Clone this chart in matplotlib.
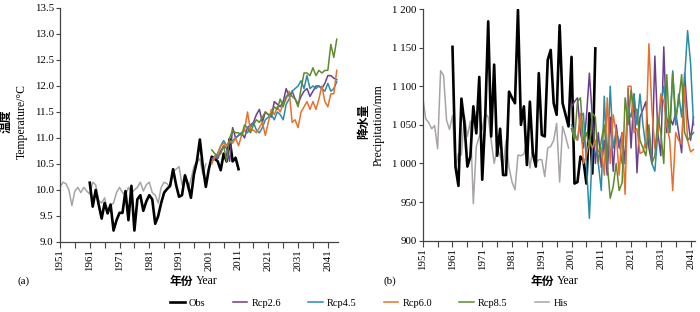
import numpy as np
import matplotlib
matplotlib.use("Agg")
import matplotlib.pyplot as plt
from matplotlib.ticker import MultipleLocator, FuncFormatter

plt.rcParams['font.family'] = ['Liberation Serif', 'Noto Sans CJK SC']

# ---- temperature (a) ----
his_years = np.arange(1951, 2001)
his_temp = [10.05, 10.15, 10.12, 10.0, 9.7, 9.98, 10.05, 9.95, 10.05, 9.98,
            9.92, 10.15, 10.1, 9.8, 9.75, 9.85, 9.6, 9.7, 9.75, 9.95,
            10.05, 9.95, 9.9, 10.05, 9.95, 10.0, 10.05, 10.15, 9.98, 10.1,
            10.15, 9.95, 9.9, 9.75, 10.05, 10.15, 10.12, 10.05, 10.35, 10.4,
            10.45, 10.1, 10.3, 10.0, 10.2, 10.45, 10.55, 10.6, 10.3, 10.5]

obs_t_years = np.arange(1961, 2012)
obs_temp = [10.14, 9.68, 10.0, 9.72, 9.45, 9.75, 9.55, 9.72, 9.22, 9.42,
            9.56, 9.56, 9.98, 9.42, 10.08, 9.22, 9.82, 9.9, 9.6, 9.78,
            9.9, 9.82, 9.35, 9.5, 9.75, 9.95, 10.02, 10.08, 10.4, 10.1,
            9.87, 9.9, 10.28, 10.1, 9.85, 10.3, 10.55, 10.97, 10.45, 10.06,
            10.4, 10.64, 10.6, 10.55, 10.38, 10.7, 10.55, 10.98, 10.55, 10.62,
            10.4]

rcp_t_years = np.arange(2002, 2045)
rcp26_temp = [10.6, 10.65, 10.6, 10.75, 10.85, 10.8, 10.55, 11.2, 11.0, 11.05,
              11.1, 11.0, 11.2, 11.25, 11.3, 11.45, 11.55, 11.3, 11.5, 11.45,
              11.4, 11.7, 11.65, 11.6, 11.7, 11.95, 11.8, 11.9, 11.75, 11.65,
              11.8, 11.9, 11.95, 11.8, 11.9, 12.0, 12.0, 11.95, 12.05, 12.2,
              12.2, 12.15, 12.12]
rcp45_temp = [10.55, 10.6, 10.7, 10.85, 10.95, 10.85, 10.9, 10.95, 11.0, 11.05,
              11.1, 11.15, 11.1, 11.2, 11.3, 11.15, 11.1, 11.2, 11.35, 11.4,
              11.45, 11.35, 11.5, 11.45, 11.35, 11.65, 11.75, 11.9, 11.95, 12.0,
              12.1, 11.95, 12.2, 11.95, 12.0, 11.95, 12.0, 11.95, 11.9, 12.05,
              11.9, 11.95, 12.08]
rcp60_temp = [10.5, 10.65, 10.7, 10.85, 10.9, 10.85, 10.95, 10.9, 11.0, 10.85,
              11.05, 11.15, 11.5, 11.15, 11.15, 11.1, 11.2, 11.3, 11.05, 11.3,
              11.55, 11.45, 11.6, 11.5, 11.65, 11.75, 11.9, 11.3, 11.35, 11.2,
              11.5, 11.6, 11.7, 11.55, 11.7, 11.55, 11.75, 12.0, 11.7, 11.6,
              11.85, 11.85, 12.3]
rcp85_temp = [10.77, 10.7, 10.65, 10.7, 10.85, 10.55, 11.0, 11.15, 11.1, 11.1,
              11.05, 11.25, 11.2, 11.1, 11.25, 11.35, 11.3, 11.4, 11.5, 11.45,
              11.45, 11.6, 11.55, 11.75, 11.6, 11.8, 11.85, 11.8, 11.75, 11.6,
              11.95, 12.25, 12.25, 12.2, 12.35, 12.2, 12.3, 12.25, 12.3, 12.3,
              12.8, 12.55, 12.9]

# ---- precipitation (b) ----
his_prec = [1086, 1058, 1053, 1045, 1049, 1019, 1120, 1114, 1056, 1044,
            1062, 995, 1013, 1011, 1062, 1035, 1055, 948, 1022, 1035,
            1045, 1065, 1060, 1030, 1000, 1020, 1010, 995, 1030, 995,
            976, 966, 1011, 1010, 1012, 1030, 994, 1020, 1000, 1005,
            1005, 983, 1020, 1022, 1030, 1052, 976, 1048, 1035, 1020]

obs_p_years = np.arange(1961, 2010)
obs_prec = [1151, 996, 971, 1084, 1052, 996, 1009, 1074, 1039, 1112,
            979, 1060, 1184, 1035, 1128, 1010, 1045, 985, 985, 1093,
            1085, 1078, 1199, 1050, 1074, 998, 1080, 1013, 996, 1117,
            1037, 1035, 1134, 1147, 1078, 1063, 1179, 1078, 1063, 1048,
            1138, 974, 976, 1009, 1004, 974, 1065, 987, 1149]

rcp_p_years = np.arange(2001, 2043)
rcp26_prec = [1073, 1080, 1085, 1040, 1020, 1060, 1117, 1060, 1000, 1040,
              995, 1030, 985, 1060, 990, 1050, 1020, 1040, 1000, 1097,
              1020, 1090, 988, 1060, 1070, 1080, 1020, 1000, 1139, 1040,
              1010, 1151, 1040, 1060, 1050, 1065, 1040, 1014, 1117, 1060,
              1030, 1060]
rcp45_prec = [1050, 1040, 1030, 1060, 1065, 1000, 929, 1020, 1030, 1000,
              965, 1087, 1000, 1100, 1020, 1040, 1030, 1000, 1000, 1070,
              1060, 1090, 1050, 1090, 1050, 1020, 1040, 1000, 990, 1040,
              1080, 1100, 1060, 1040, 1120, 1050, 1090, 1060, 1110, 1172,
              1130, 1050]
rcp60_prec = [1045, 1035, 1030, 1065, 1000, 1010, 1030, 1020, 1030, 1015,
              1020, 985, 1085, 1000, 1063, 1040, 985, 1040, 960, 1100,
              1100, 1040, 1045, 1013, 1015, 1030, 1155, 1070, 1020, 1040,
              1090, 1080, 1050, 1030, 965, 1040, 1030, 1025, 1099, 1030,
              1015, 1018]
rcp85_prec = [1045, 1030, 1080, 1085, 1030, 1040, 1020, 1065, 1060, 1000,
              1030, 1050, 1000, 955, 970, 1000, 965, 975, 1085, 1050,
              1095, 1070, 1070, 1030, 1020, 1010, 1050, 1000, 1010, 1060,
              1040, 1000, 1115, 1040, 1117, 1060, 1080, 1115, 1040, 1030,
              1035, 1040]

colors = {"Obs": "black", "Rcp2.6": "#6b3f8f", "Rcp4.5": "#2a8ca8",
          "Rcp6.0": "#e8702e", "Rcp8.5": "#5f8a2e", "His": "#a9a4a4"}

fig = plt.figure(figsize=(7, 3.12), dpi=100)
ax1 = fig.add_axes([0.0857, 0.2244, 0.3971, 0.75])
ax2 = fig.add_axes([0.6039, 0.2285, 0.389, 0.7426])


def style(ax, xmax):
    for s in ["top", "right"]:
        ax.spines[s].set_visible(False)
    for s in ["left", "bottom"]:
        ax.spines[s].set_color("#444444")
        ax.spines[s].set_linewidth(0.9)
    ax.set_xlim(1951, xmax)
    ax.xaxis.set_major_locator(MultipleLocator(10, offset=1))
    ax.xaxis.set_minor_locator(MultipleLocator(5, offset=1))
    ax.tick_params(axis="x", which="both", direction="out", length=4,
                   width=0.8, color="#444444", labelsize=7.8, rotation=90, pad=1)
    ax.tick_params(axis="y", direction="out", length=3, width=0.8,
                   color="#444444", labelsize=7.8, pad=1.5)


lines = []
ax1.plot(his_years, his_temp, color=colors["His"], lw=1.1, zorder=1.5)
lines.append(ax1.plot(obs_t_years, obs_temp, color=colors["Obs"], lw=1.9, zorder=2)[0])
lines.append(ax1.plot(rcp_t_years, rcp26_temp, color=colors["Rcp2.6"], lw=1.1)[0])
lines.append(ax1.plot(rcp_t_years, rcp45_temp, color=colors["Rcp4.5"], lw=1.1)[0])
lines.append(ax1.plot(rcp_t_years, rcp60_temp, color=colors["Rcp6.0"], lw=1.1)[0])
lines.append(ax1.plot(rcp_t_years, rcp85_temp, color=colors["Rcp8.5"], lw=1.1)[0])
lines.append(ax1.lines[0])
style(ax1, 2044.4)
ax1.set_ylim(9.0, 13.5)
ax1.yaxis.set_major_locator(MultipleLocator(0.5))
ax1.yaxis.set_major_formatter(FuncFormatter(lambda v, p: f"{v:.1f}"))

ax2.plot(his_years, his_prec, color=colors["His"], lw=1.1, zorder=1.5)
ax2.plot(obs_p_years, obs_prec, color=colors["Obs"], lw=1.9, zorder=2)
ax2.plot(rcp_p_years, rcp26_prec, color=colors["Rcp2.6"], lw=1.1)
ax2.plot(rcp_p_years, rcp45_prec, color=colors["Rcp4.5"], lw=1.1)
ax2.plot(rcp_p_years, rcp60_prec, color=colors["Rcp6.0"], lw=1.1)
ax2.plot(rcp_p_years, rcp85_prec, color=colors["Rcp8.5"], lw=1.1)
style(ax2, 2042.5)
ax2.set_ylim(900, 1200)
ax2.yaxis.set_major_locator(MultipleLocator(50))
ax2.yaxis.set_major_formatter(FuncFormatter(
    lambda v, p: f"{int(v):,}".replace(",", " ")))

# axis titles
fig.text(0.009, 0.61, "温度", rotation=90, ha="center", va="center",
         fontsize=8.5, fontweight="bold", family="Noto Sans CJK SC")
fig.text(0.031, 0.61, "Temperature/°C", rotation=90, ha="center", va="center",
         fontsize=8.5)
fig.text(0.519, 0.61, "降水量", rotation=90, ha="center", va="center",
         fontsize=8.5, fontweight="bold", family="Noto Sans CJK SC")
fig.text(0.541, 0.6, "Precipitation/mm", rotation=90, ha="center", va="center",
         fontsize=8.5)
for cx in (195, 556):
    fig.text((cx - 2) / 700, 1 - 281 / 312, "年份", ha="right", va="center",
             fontsize=8.5, fontweight="bold", family="Noto Sans CJK SC")
    fig.text((cx + 1) / 700, 1 - 281 / 312, "Year", ha="left", va="center",
             fontsize=8.5)
fig.text(17 / 700, 1 - 281 / 312, "(a)", ha="left", va="center", fontsize=8)
fig.text(383 / 700, 1 - 281 / 312, "(b)", ha="left", va="center", fontsize=8)

labels = ["Obs", "Rcp2.6", "Rcp4.5", "Rcp6.0", "Rcp8.5", "His"]
fig.legend(lines, labels, loc="center", bbox_to_anchor=(369 / 700, 1 - 303 / 312),
           ncol=6, frameon=False, fontsize=7.5, handlelength=1.4,
           handletextpad=0.4, columnspacing=2.6)

fig.savefig("out.png", dpi=100)
